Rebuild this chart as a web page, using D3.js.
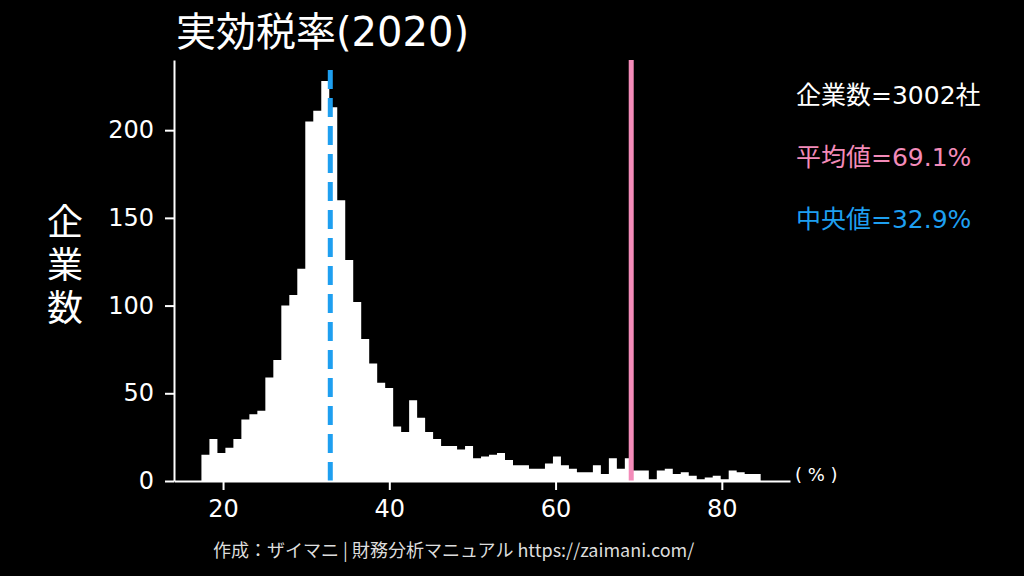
<!DOCTYPE html>
<html>
<head>
<meta charset="utf-8">
<script src="https://cdn.jsdelivr.net/npm/d3@7"></script>
<style>
  html, body { margin: 0; padding: 0; background: #000; }
  svg { display: block; }
  text { font-family: "DejaVu Sans", "Noto Sans CJK JP", sans-serif; fill: #fff; }
</style>
</head>
<body>
<div id="chart"></div>
<script>
// histogram: 70 bins of 0.96% starting at 17.4%
const binStart = 17.4;
const binWidth = 0.961;
const counts = [
  15, 24, 16, 19, 24, 35, 38, 40, 59, 69,
  100, 106, 121, 205, 211, 228, 213, 160, 126, 102,
  81, 67, 56, 53, 31, 28, 46, 36, 28, 24,
  20, 20, 18, 20, 13, 14, 15, 16, 12, 9,
  9, 7, 7, 10, 14, 9, 7, 5, 5, 9,
  4, 13, 7, 13, 6, 6, 1, 6, 7, 4,
  5, 3, 1, 2, 3, 1, 6, 5, 4, 4
];
const xTicks = [20, 40, 60, 80];
const yTicks = [0, 50, 100, 150, 200];
const meanValue = 69.1;
const medianValue = 32.9;
const companyCount = 3002;

const width = 1024, height = 576;
const margin = { top: 60, right: 234, bottom: 95, left: 174 };
const innerW = width - margin.left - margin.right;
const innerH = height - margin.top - margin.bottom;

const pink = "#f38bb9";
const blue = "#1e9ff0";

const bins = counts.map((c, i) => ({ x0: binStart + i * binWidth, x1: binStart + (i + 1) * binWidth, count: c }));
// step outline: every bin's left edge, then the right edge of the last bin
const steps = bins.map(b => ({ x: b.x0, count: b.count }))
  .concat([{ x: bins[bins.length - 1].x1, count: bins[bins.length - 1].count }]);

const svg = d3.select("#chart").append("svg")
  .attr("width", width)
  .attr("height", height);

const g = svg.append("g")
  .attr("transform", `translate(${margin.left}, ${margin.top})`);

const x = d3.scaleLinear()
  .domain([14.1, 88.2])
  .range([0, innerW]);

const y = d3.scaleLinear()
  .domain([0, 240])
  .range([innerH, 0]);

const area = d3.area()
  .x(d => x(d.x))
  .y0(innerH)
  .y1(d => y(d.count))
  .curve(d3.curveStepAfter);

g.append("path")
  .datum(steps)
  .attr("d", area)
  .attr("fill", "#fff");

// mean and median lines
g.append("line")
  .attr("x1", x(meanValue)).attr("x2", x(meanValue))
  .attr("y1", innerH).attr("y2", 0)
  .attr("stroke", pink)
  .attr("stroke-width", 5);

g.append("line")
  .attr("x1", x(medianValue)).attr("x2", x(medianValue))
  .attr("y1", innerH).attr("y2", 5)
  .attr("stroke", blue)
  .attr("stroke-width", 5)
  .attr("stroke-dasharray", "19,9");

const xAxis = d3.axisBottom(x)
  .tickValues(xTicks)
  .tickSize(9)
  .tickPadding(10)
  .tickSizeOuter(0);

const yAxis = d3.axisLeft(y)
  .tickValues(yTicks)
  .tickSize(9)
  .tickPadding(11)
  .tickSizeOuter(0);

const xg = g.append("g")
  .attr("transform", `translate(0, ${innerH})`)
  .call(xAxis);

const yg = g.append("g")
  .call(yAxis);

[xg, yg].forEach(ax => {
  ax.select(".domain").attr("stroke", "#fff").attr("stroke-width", 2);
  ax.selectAll(".tick line").attr("stroke", "#fff").attr("stroke-width", 2);
  ax.selectAll(".tick text")
    .attr("fill", "#fff")
    .style("font-size", "24px")
    .style("font-family", "\"DejaVu Sans\", \"Noto Sans CJK JP\", sans-serif");
});

// title
svg.append("text")
  .attr("x", 176)
  .attr("y", 46)
  .style("font-size", "40px")
  .text("実効税率(2020)");

// y label, stacked vertically
svg.append("text")
  .attr("x", 65)
  .attr("y", 268)
  .attr("text-anchor", "middle")
  .style("writing-mode", "vertical-rl")
  .style("letter-spacing", "7px")
  .style("font-size", "36px")
  .style("font-family", "\"Noto Sans CJK JP\", sans-serif")
  .text("企業数");

// unit
svg.append("text")
  .attr("x", 795)
  .attr("y", 481)
  .style("font-size", "18px")
  .text("( % )");

// legend-like notes
const notes = [
  { text: `企業数=${companyCount}社`, color: "#fff" },
  { text: `平均値=${meanValue}%`, color: pink },
  { text: `中央値=${medianValue}%`, color: blue }
];
svg.selectAll("text.note")
  .data(notes)
  .enter()
.append("text")
  .attr("class", "note")
  .attr("x", 796)
  .attr("y", (d, i) => 104 + i * 62)
  .style("font-size", "25px")
  .style("fill", d => d.color)
  .text(d => d.text);

// footer
svg.append("text")
  .attr("x", 213)
  .attr("y", 557)
  .style("font-size", "18px")
  .style("font-family", "\"Noto Sans CJK JP\", sans-serif")
  .style("fill", "#ddd")
  .text("作成：ザイマニ | 財務分析マニュアル https://zaimani.com/");
</script>
</body>
</html>
